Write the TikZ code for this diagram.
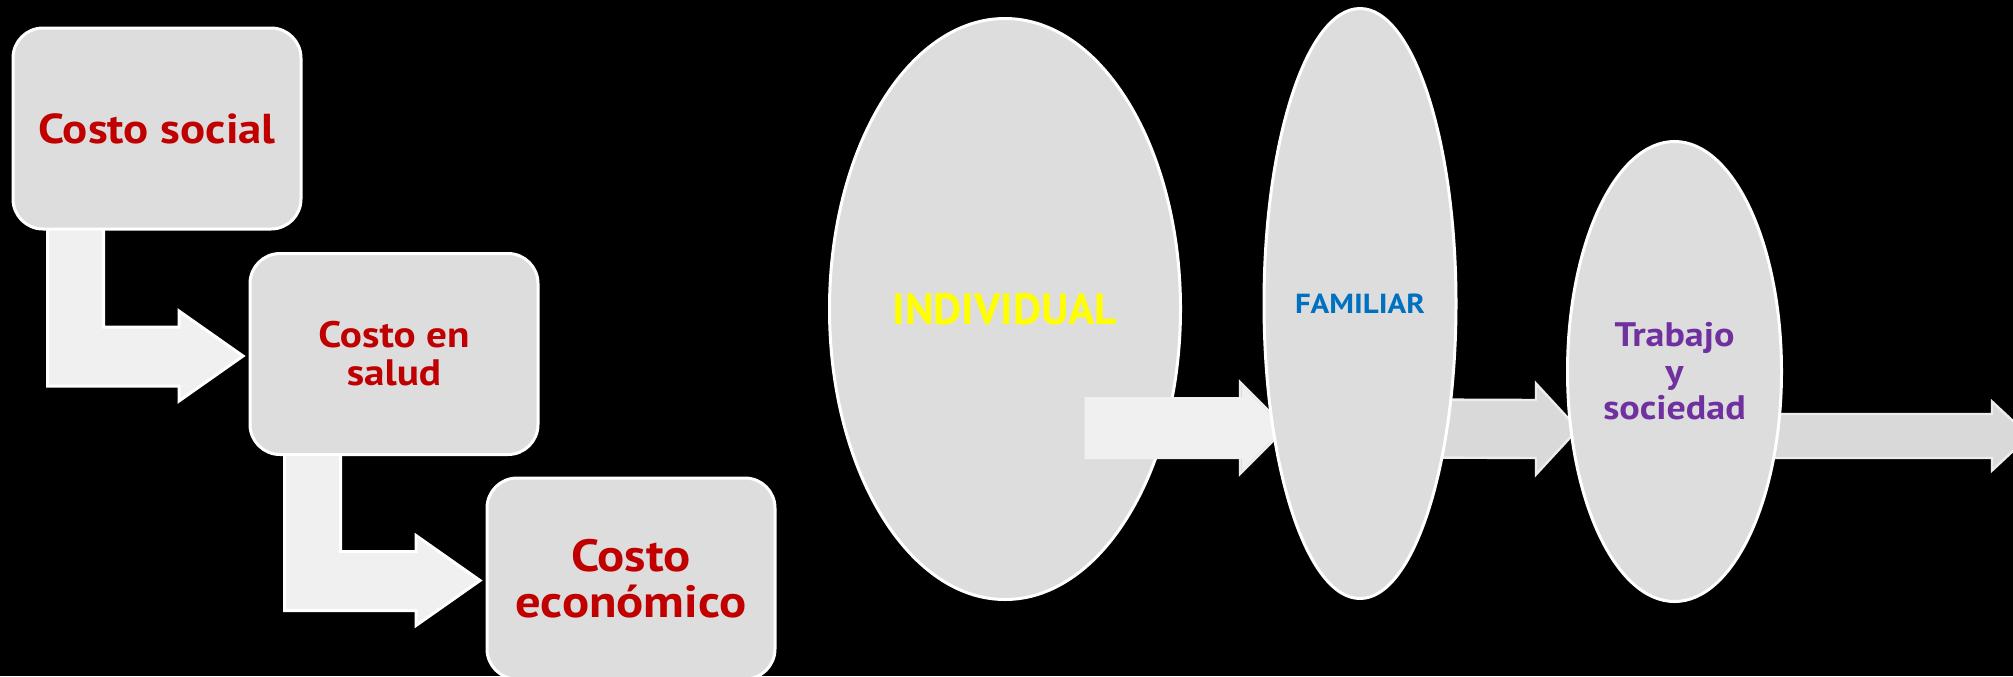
\documentclass[tikz,border=0pt]{standalone}
\usepackage{fontspec}
\setmainfont{PT Sans}
\newfontfamily\anchafont{PT Sans}[FakeStretch=1.12]
\usetikzlibrary{positioning, shapes.geometric, calc}

\definecolor{relleno}{HTML}{DDDDDD}
\definecolor{flechaclara}{HTML}{F0F0F0}
\definecolor{flechagris}{HTML}{D9D9D9}
\definecolor{bordeflecha}{HTML}{EDEDED}
\definecolor{rojo}{HTML}{C00000}
\definecolor{amarillo}{HTML}{FFFF00}
\definecolor{azul}{HTML}{0070C0}
\definecolor{morado}{HTML}{7030A0}

\pgfdeclarelayer{fondo}
\pgfdeclarelayer{bajo}
\pgfdeclarelayer{flechas}
\pgfsetlayers{fondo,bajo,flechas,main}

\tikzset{
  costo/.style={rectangle, rounded corners=15pt, draw=white, line width=1.5pt, fill=relleno, outer sep=0pt, minimum width=144pt, minimum height=100.5pt, align=center, text=rojo},
  nivel/.style={ellipse, draw=white, line width=1.5pt, fill=relleno, outer sep=0pt, inner sep=0pt, align=center},
  bentarrow/.style={fill=flechaclara, draw=white, line width=1.5pt, line join=miter},
  flowarrow/.style={fill=flechagris, draw=bordeflecha, line width=1.2pt, line join=miter},
  overarrow/.style={fill=flechaclara},
}

\begin{document}
\begin{tikzpicture}[x=0.5pt, y=-0.5pt]
  % Background
  \begin{pgfonlayer}{fondo}
    \fill[black] (0,0) rectangle (2013,676);
  \end{pgfonlayer}
  \useasboundingbox (0,0) rectangle (2013,676);

  % Nodes
  \node[costo, font=\anchafont\bfseries\fontsize{20.9}{25}\selectfont] (soc) at (157,128.5) {Costo social};
  \node[costo, font=\anchafont\bfseries\fontsize{18.4}{19}\selectfont] (hlt) at (394,354) {Costo en\\salud};
  \node[costo, font=\anchafont\bfseries\fontsize{22.6}{23}\selectfont] (eco) at (631,578.5) {Costo\\económico};

  \begin{pgfonlayer}{bajo}
    \node[nivel, minimum width=175.5pt, minimum height=290.5pt, text=amarillo, font=\bfseries\fontsize{21.8}{25}\selectfont] (ind) at (1005,309) {INDIVIDUAL};
  \end{pgfonlayer}
  \node[nivel, minimum width=96pt, minimum height=295pt, text=azul, font=\anchafont\bfseries\fontsize{13.8}{17}\selectfont] (fam) at (1360,303.5) {FAMILIAR};
  \node[nivel, minimum width=107pt, minimum height=230pt, text=morado, font=\anchafont\bfseries\fontsize{17}{18.3}\selectfont] (tra) at (1674.5,371.5) {Trabajo\\y\\sociedad};

  % Arrow ends
  \coordinate (a0) at ($(ind.center)+(79.5,119)$);
  \coordinate (a1) at ($(fam.center)+(-76,124.5)$);
  \coordinate (b0) at ($(ind.center)+(150,119)$);
  \coordinate (b1) at ($(fam.center)+(-74,124.5)$);
  \coordinate (c0) at ($(fam.center)+(60,125)$);
  \coordinate (c1) at ($(tra.center)+(-96.5,57.5)$);
  \coordinate (d0) at ($(tra.center)+(60,64.5)$);
  \coordinate (fin) at (2029,436);

  % Arrows
  \begin{pgfonlayer}{flechas}
    \draw[bentarrow] ($(soc.south west)+(34.5,-10)$) -- ($(soc.south west)+(90.5,-10)$)
      |- ($(hlt.west)+(-71,-27)$) -- ($(hlt.west)+(-71,-43)$) -- ($(hlt.west)+(-7,2)$)
      -- ($(hlt.west)+(-71,47)$) -- ($(hlt.west)+(-71,32)$) -| ($(soc.south west)+(34.5,-10)$) -- cycle;
    \draw[bentarrow] ($(hlt.south west)+(34.5,-10)$) -- ($(hlt.south west)+(90.5,-10)$)
      |- ($(eco.west)+(-71,-27)$) -- ($(eco.west)+(-71,-43)$) -- ($(eco.west)+(-7,2)$)
      -- ($(eco.west)+(-71,47)$) -- ($(eco.west)+(-71,32)$) -| ($(hlt.south west)+(34.5,-10)$) -- cycle;

    \draw[flowarrow] ($(b0)+(0,-29)$) -- ($(b1)+(-46,-29)$) -- ($(b1)+(-46,-46)$) -- (b1)
      -- ($(b1)+(-46,46)$) -- ($(b1)+(-46,29)$) -- ($(b0)+(0,29)$) -- cycle;
    \fill[overarrow] ($(a0)+(0,-31)$) -- ($(a1)+(-42,-31)$) -- ($(a1)+(-42,-42)$) -- (a1)
      -- ($(a1)+(-42,42)$) -- ($(a1)+(-42,31)$) -- ($(a0)+(0,31)$) -- cycle;
    \draw[flowarrow] ($(c0)+(0,-29)$) -- ($(c1)+(-42,-29)$) -- ($(c1)+(-42,-45.5)$) -- (c1)
      -- ($(c1)+(-42,45.5)$) -- ($(c1)+(-42,29)$) -- ($(c0)+(0,29)$) -- cycle;
    \draw[flowarrow] ($(d0)+(0,-22)$) -- ($(fin)+(-37,-22)$) -- ($(fin)+(-37,-34.5)$) -- (fin)
      -- ($(fin)+(-37,34.5)$) -- ($(fin)+(-37,22)$) -- ($(d0)+(0,22)$) -- cycle;
  \end{pgfonlayer}
\end{tikzpicture}
\end{document}
